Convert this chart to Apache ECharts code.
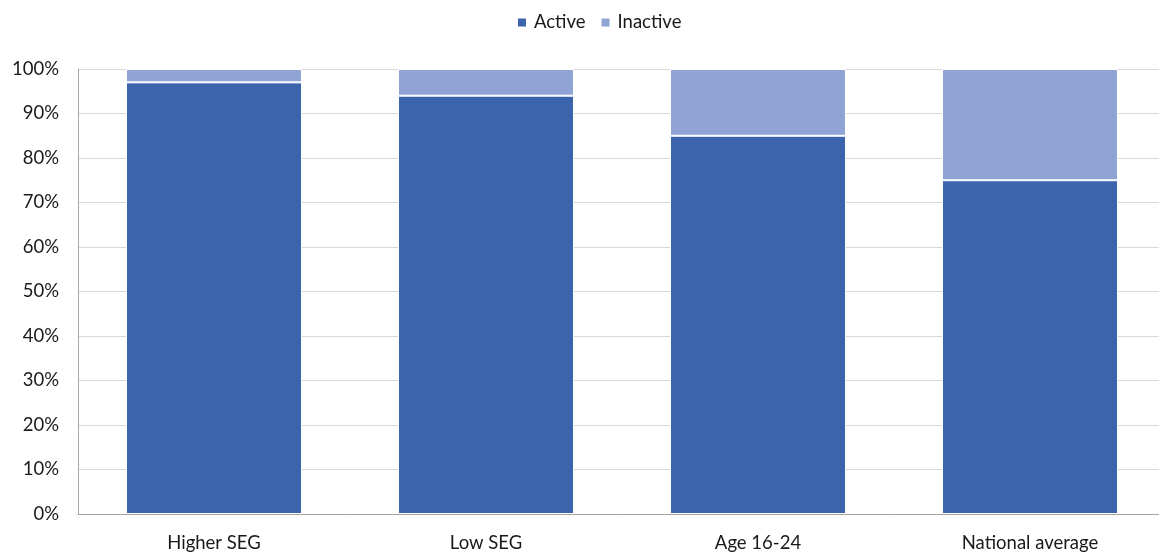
<!DOCTYPE html>
<html>
<head>
<meta charset="utf-8">
<script src="https://cdn.jsdelivr.net/npm/echarts@6/dist/echarts.min.js"></script>
<style>
  html, body { margin: 0; padding: 0; background: #fff; overflow: hidden; }
  /* the plot area runs a little past the visible right edge */
  #chart { width: 1175px; height: 560px; }
</style>
</head>
<body>
<div id="chart"></div>
<script>
// Share of each group that is active vs inactive (percent)
const categories = ['Higher SEG', 'Low SEG', 'Age 16-24', 'National average'];
const activeValues = [97, 94, 85, 75];
const inactiveValues = [3, 6, 15, 25];
const seriesNames = ['Active', 'Inactive'];

const chart = echarts.init(document.getElementById('chart'));
const font = 'Lato, "Open Sans", sans-serif';

chart.setOption({
  animation: false,
  textStyle: { fontFamily: font },
  legend: {
    data: seriesNames,
    top: 8,
    left: 511,
    itemWidth: 10,
    itemHeight: 10,
    itemGap: 14,
    icon: 'rect',
    textStyle: { fontSize: 18.5, color: '#1a1a1a', fontFamily: font, padding: [0, 0, 0, 2] }
  },
  grid: { left: 78, right: 9, top: 69, bottom: 46, containLabel: false },
  xAxis: {
    type: 'category',
    data: categories,
    axisLine: { show: true, lineStyle: { color: '#a6a6a6', width: 1 } },
    axisTick: { show: false },
    axisLabel: { fontSize: 18.5, color: '#1a1a1a', margin: 20, fontFamily: font }
  },
  yAxis: {
    type: 'value',
    min: 0,
    max: 100,
    interval: 10,
    axisLine: { show: true, lineStyle: { color: '#a6a6a6', width: 1 } },
    axisTick: { show: false },
    splitLine: { show: true, lineStyle: { color: '#d9d9d9', width: 1 } },
    axisLabel: { fontSize: 18.5, color: '#1a1a1a', margin: 19, formatter: '{value}%', fontFamily: font }
  },
  series: [
    {
      name: seriesNames[0],
      type: 'bar',
      stack: 'total',
      data: activeValues,
      barWidth: '64.7%',
      itemStyle: { color: '#3B64AD', borderColor: '#ffffff', borderWidth: 1 }
    },
    {
      name: seriesNames[1],
      type: 'bar',
      stack: 'total',
      data: inactiveValues,
      barWidth: '64.7%',
      itemStyle: { color: '#8FA3D4', borderColor: '#ffffff', borderWidth: 1 }
    }
  ]
});
</script>
</body>
</html>
